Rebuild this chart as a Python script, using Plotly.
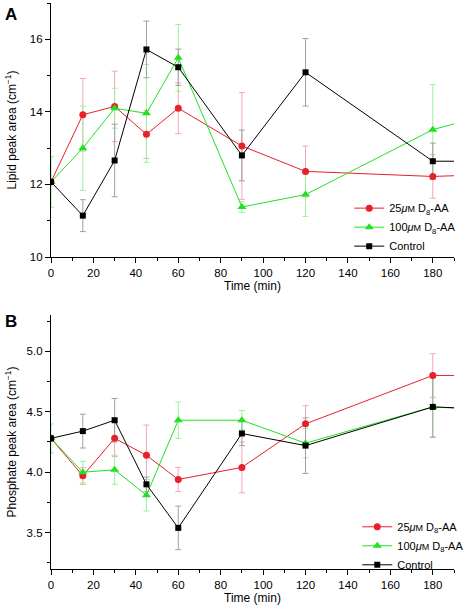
import plotly.graph_objects as go

# ---- data ----
time_min = [0, 15, 30, 45, 60, 90, 120, 180, 240]

lipid_25 = [12.07, 13.92, 14.15, 13.38, 14.10, 13.06, 12.36, 12.22, 12.34]
lipid_25_err = [0, 1.0, 0.97, 0.66, 0.7, 1.47, 0.7, 0.6, 0.3]
lipid_100 = [12.07, 13.00, 14.10, 13.96, 15.49, 11.38, 11.72, 13.51, 14.47]
lipid_100_err = [0.7, 1.16, 0.55, 1.35, 0.92, 0.15, 0.6, 1.24, 0.3]
lipid_ctrl = [12.07, 11.14, 12.66, 15.72, 15.23, 12.80, 15.09, 12.64, 12.64]
lipid_ctrl_err = [0, 0.44, 1.0, 0.78, 0.5, 0.7, 0.93, 0.5, 0.3]

phos_25 = [4.28, 3.97, 4.28, 4.14, 3.94, 4.04, 4.40, 4.80, 4.80]
phos_25_err = [0, 0.07, 0.15, 0.25, 0.1, 0.21, 0.15, 0.18, 0.1]
phos_100 = [4.28, 4.00, 4.02, 3.81, 4.43, 4.43, 4.24, 4.54, 4.48]
phos_100_err = [0.12, 0.09, 0.12, 0.13, 0.15, 0.08, 0.12, 0.25, 0.1]
phos_ctrl = [4.28, 4.34, 4.43, 3.90, 3.54, 4.32, 4.22, 4.54, 4.50]
phos_ctrl_err = [0, 0.14, 0.18, 0.06, 0.18, 0.1, 0.23, 0.25, 0.1]

names = ["25<i>μ</i><span style='font-size:9px'>M</span> D<sub>8</sub>-AA",
         "100<i>μ</i><span style='font-size:9px'>M</span> D<sub>8</sub>-AA",
         "Control"]
colors = ["#e8202a", "#22e022", "#000000"]
err_colors = ["#f2a6b8", "#9cf09c", "#a0a0a0"]
symbols = ["circle", "triangle-up", "square"]
sizes = [7, 8, 6]

FONT = "Liberation Sans, Arial, Helvetica, sans-serif"

fig = go.Figure()

panels = [
    ([lipid_25, lipid_100, lipid_ctrl], [lipid_25_err, lipid_100_err, lipid_ctrl_err], "x", "y", "legend"),
    ([phos_25, phos_100, phos_ctrl], [phos_25_err, phos_100_err, phos_ctrl_err], "x2", "y2", "legend2"),
]
# error bars first (underneath all lines and markers)
for series, errs, xa, ya, leg in panels:
    for i in range(3):
        fig.add_trace(go.Scatter(
            x=time_min, y=series[i], mode="markers", showlegend=False, hoverinfo="skip",
            xaxis=xa, yaxis=ya,
            marker=dict(size=1, opacity=0),
            error_y=dict(type="data", array=errs[i], visible=True,
                         color=err_colors[i], thickness=1, width=3),
        ))
# lines + markers
for series, errs, xa, ya, leg in panels:
    for i in range(3):
        fig.add_trace(go.Scatter(
            x=time_min, y=series[i], name=names[i], mode="lines+markers",
            xaxis=xa, yaxis=ya, legend=leg,
            line=dict(color=colors[i], width=1),
            marker=dict(color=colors[i], symbol=symbols[i], size=sizes[i]),
        ))

axis_common = dict(
    showline=True, linecolor="black", linewidth=1.2,
    ticks="outside", ticklen=5, tickwidth=1, tickcolor="black",
    showgrid=False, zeroline=False, mirror=False, automargin=False,
    tickfont=dict(family=FONT, size=11.5, color="black"),
)
minor = dict(ticks="outside", ticklen=3, tickwidth=1, tickcolor="black", showgrid=False)

fig.update_layout(
    width=472, height=610,
    margin=dict(l=51, r=13, t=3, b=41),
    paper_bgcolor="white", plot_bgcolor="white",
    font=dict(family=FONT, size=11, color="black"),
    xaxis=dict(domain=[0, 1], range=[0, 190], dtick=20, anchor="y",
               minor=dict(dtick=10, **minor),
               title=dict(text="Time (min)", font=dict(size=12), standoff=2), **axis_common),
    yaxis=dict(domain=[0.5512, 1.0], range=[10, 17], tickvals=[10, 12, 14, 16], anchor="x",
               minor=dict(tickvals=[11, 13, 15, 17], **minor),
               title=dict(text="Lipid peak area (cm<sup>−1</sup>)", font=dict(size=12), standoff=10),
               **axis_common),
    xaxis2=dict(domain=[0, 1], range=[0, 190], dtick=20, anchor="y2",
                minor=dict(dtick=10, **minor),
                title=dict(text="Time (min)", font=dict(size=12), standoff=2), **axis_common),
    yaxis2=dict(domain=[0, 0.4488], range=[3.2, 5.3], tickvals=[3.5, 4.0, 4.5, 5.0],
                ticktext=["3.5", "4.0", "4.5", "5.0"], anchor="x2",
                minor=dict(tickvals=[3.25, 3.75, 4.25, 4.75, 5.25], **minor),
                title=dict(text="Phosphate peak area (cm<sup>−1</sup>)", font=dict(size=12), standoff=7),
                **axis_common),
    legend=dict(x=0.74, xanchor="left", y=0.604, yanchor="middle", yref="paper",
                bgcolor="rgba(0,0,0,0)", font=dict(size=11), itemwidth=30,
                tracegroupgap=0),
    legend2=dict(x=0.76, xanchor="left", y=0.041, yanchor="middle", yref="paper",
                 bgcolor="rgba(0,0,0,0)", font=dict(size=11), itemwidth=30,
                 tracegroupgap=0),
    showlegend=True,
)

fig.add_annotation(text="<b>A</b>", xref="paper", yref="paper", x=-0.12, y=1.0,
                   xanchor="left", yanchor="top", showarrow=False,
                   font=dict(family=FONT, size=17, color="black"))
fig.add_annotation(text="<b>B</b>", xref="paper", yref="paper", x=-0.12, y=0.458,
                   xanchor="left", yanchor="top", showarrow=False,
                   font=dict(family=FONT, size=17, color="black"))

fig.write_html("out.html", config={"displayModeBar": False},
               post_script="document.body.style.margin='0px';document.body.style.padding='0px';")
